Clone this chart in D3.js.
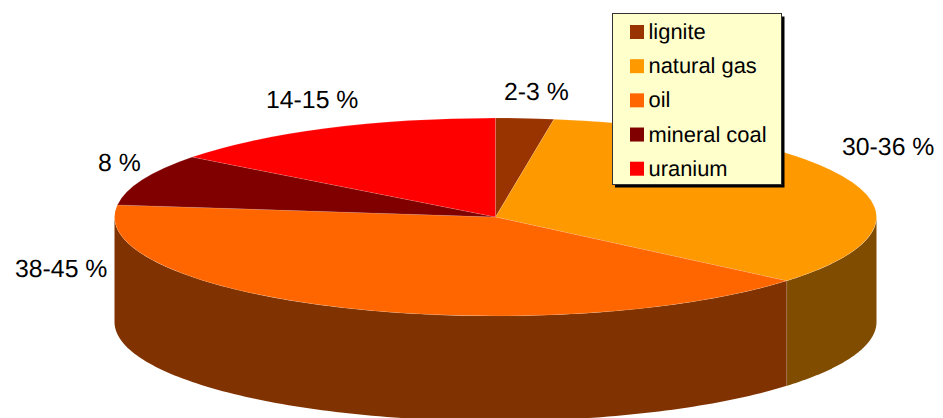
<!DOCTYPE html>
<html>
<head>
<meta charset="utf-8">
<script src="https://cdn.jsdelivr.net/npm/d3@7"></script>
<style>
  html, body { margin: 0; padding: 0; background: #fff; }
  svg { display: block; }
  text { font-family: "Liberation Sans", Arial, sans-serif; fill: #000; text-rendering: geometricPrecision; }
</style>
</head>
<body>
<script>
const WIDTH  = 943;
const HEIGHT = 418;

const categories = ['lignite', 'natural gas', 'oil', 'mineral coal', 'uranium'];
const shares     = [2.45, 33.7, 40.8, 8.4, 14.65];
const labels     = ['2-3 %', '30-36 %', '38-45 %', '8 %', '14-15 %'];
const colors     = ['#993300', '#ff9900', '#ff6600', '#800000', '#ff0000'];
const sideColors = ['#4d1a00', '#804d00', '#803300', '#400000', '#800000'];

// pie geometry
const cx = 495.5, cy = 217, rx = 381, ry = 99, depth = 105;

// label anchors (left edge, baseline), same order as labels
const labelX = [504, 842, 15, 98, 266];
const labelY = [100, 155, 277, 171, 108];

const svg = d3.select('body').append('svg')
  .attr('width', WIDTH)
  .attr('height', HEIGHT);

const slices = d3.pie().sort(null).value(d => d)(shares)
  .map((d, i) => ({...d, i}));

// angle measured clockwise from 12 o'clock, flattened to the ellipse
const px = a => cx + rx * Math.sin(a);
const py = a => cy - ry * Math.cos(a);

// side wall: only the part of the rim that faces front (90deg..270deg)
const wall = d3.area()
  .x(a => px(a))
  .y0(a => py(a))
  .y1(a => py(a) + depth);

const front = slices.map(d => {
  const a0 = Math.max(d.startAngle, Math.PI / 2);
  const a1 = Math.min(d.endAngle, Math.PI * 1.5);
  return {...d, a0, a1};
}).filter(d => d.a1 > d.a0);

svg.append('g').selectAll('path')
  .data(front)
  .enter().append('path')
    .attr('d', d => wall(d3.range(0, 121).map(k => d.a0 + (d.a1 - d.a0) * k / 120)))
    .attr('fill', d => sideColors[d.i]);

// seams between the wall faces
svg.append('g').selectAll('line')
  .data(front.slice(1))
  .enter().append('line')
    .attr('x1', d => px(d.a0)).attr('x2', d => px(d.a0))
    .attr('y1', d => py(d.a0)).attr('y2', d => py(d.a0) + depth)
    .attr('stroke', '#fff').attr('stroke-opacity', 0.2).attr('stroke-width', 0.7);

// top of the pie
const arc = d3.arc().innerRadius(0).outerRadius(rx);

svg.append('g')
  .attr('transform', `translate(${cx},${cy}) scale(1,${ry / rx})`)
  .selectAll('path')
  .data(slices)
  .enter().append('path')
    .attr('d', arc)
    .attr('fill', d => colors[d.i])
    .attr('stroke', '#fff')
    .attr('stroke-opacity', 0.2)
    .attr('stroke-width', 0.6)
    .attr('vector-effect', 'non-scaling-stroke');

// value labels
svg.append('g').selectAll('text')
  .data(labels)
  .enter().append('text')
    .attr('x', (d, i) => labelX[i])
    .attr('y', (d, i) => labelY[i])
    .attr('font-size', 24.8)
    .text(d => d);

// legend
const legend = svg.append('g');

legend.append('rect')
  .attr('x', 615).attr('y', 16.5)
  .attr('width', 169.5).attr('height', 171)
  .attr('fill', '#000');

legend.append('rect')
  .attr('x', 612.5).attr('y', 13.5)
  .attr('width', 169).attr('height', 171)
  .attr('fill', '#ffffcc')
  .attr('stroke', '#333')
  .attr('stroke-width', 1);

const legendY = d3.scalePoint().domain(categories).range([32, 168.7]);

legend.selectAll('rect.swatch')
  .data(categories)
  .enter().append('rect')
    .attr('class', 'swatch')
    .attr('x', 630)
    .attr('y', d => legendY(d) - 7)
    .attr('width', 14).attr('height', 14)
    .attr('fill', (d, i) => colors[i]);

legend.selectAll('text')
  .data(categories)
  .enter().append('text')
    .attr('x', 648.5)
    .attr('y', d => legendY(d) + 7)
    .attr('font-size', 21.9)
    .text(d => d);
</script>
</body>
</html>
